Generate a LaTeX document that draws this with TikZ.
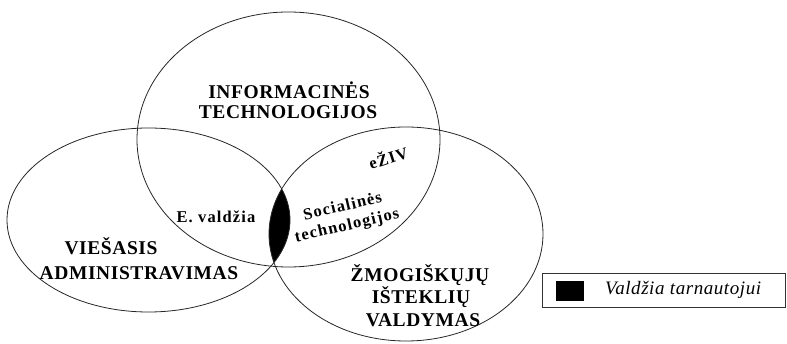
\documentclass[tikz,border=0pt]{standalone}
\usepackage{fontspec}
\setmainfont{Liberation Serif}
\begin{document}
\begin{tikzpicture}[x=1pt,y=-1pt,
  ring/.style={draw=black!85,line width=0.8pt},
  bigl/.style={font=\bfseries\fontsize{19.5}{22}\selectfont\addfontfeatures{LetterSpace=3},align=center,inner sep=0pt},
  smalll/.style={font=\bfseries\fontsize{16.5}{19}\selectfont\addfontfeatures{LetterSpace=7},align=center,inner sep=0pt},
  legtext/.style={font=\itshape\fontsize{19}{22}\selectfont\addfontfeatures{LetterSpace=3},anchor=west,inner sep=0pt}]
\useasboundingbox (0,0) rectangle (787,344);
% black lens: intersection of all three circles
\begin{scope}
  \clip (148.5,220) ellipse [x radius=141.5pt, y radius=92pt];
  \clip (406,234) ellipse [x radius=137pt, y radius=107pt];
  \fill[black] (288.5,139.5) ellipse [x radius=151.5pt, y radius=127.5pt];
\end{scope}
% circles
\draw[ring] (288.5,139.5) ellipse [x radius=151.5pt, y radius=127.5pt];
\draw[ring] (148.5,220) ellipse [x radius=141.5pt, y radius=92pt];
\draw[ring] (406,234) ellipse [x radius=137pt, y radius=107pt];
% labels
\node[bigl] (it1) at (289,90) {INFORMACINĖS};
\node[bigl] (it2) at (288,112) {TECHNOLOGIJOS};
\node[bigl] (va1) at (111,246) {VIEŠASIS};
\node[bigl] (va2) at (139,273) {ADMINISTRAVIMAS};
\node[bigl] (hr1) at (420,275) {ŽMOGIŠKŲJŲ};
\node[bigl] (hr2) at (421,297) {IŠTEKLIŲ};
\node[bigl] (hr3) at (423,320) {VALDYMAS};
\node[smalll] (ev) at (216,217) {E. valdžia};
\node[smalll,rotate=18] (eziv) at (388,157) {eŽIV};
\node[smalll,rotate=13,font=\bfseries\fontsize{16.5}{19.5}\selectfont\addfontfeatures{LetterSpace=7}] (st) at (345,217) {Socialinės\\technologijos};
% legend
\draw[draw=black!80,line width=0.8pt] (542,273) rectangle (785.5,307);
\fill[black] (556,281) rectangle (584,301);
\node[legtext] (leg) at (605,290) {Valdžia tarnautojui};
\end{tikzpicture}
\end{document}
